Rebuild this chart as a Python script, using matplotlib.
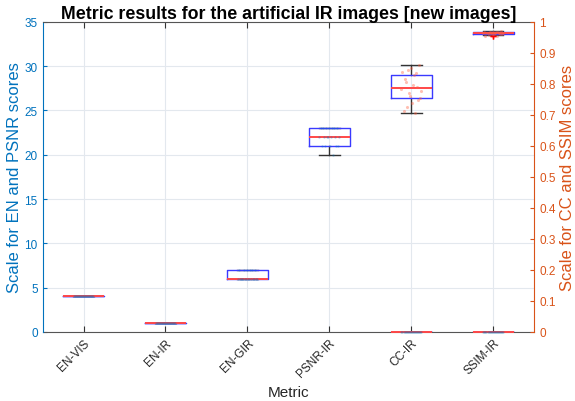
import numpy as np
import matplotlib.pyplot as plt

plt.rcParams['font.family'] = ['Liberation Sans', 'DejaVu Sans']

metrics = ['EN-VIS', 'EN-IR', 'EN-GIR', 'PSNR-IR', 'CC-IR', 'SSIM-IR']

# scores per image (20 artificial IR images)
en_vis = [4] * 20
en_ir = [1] * 20
en_gir = [6, 6, 6, 6, 6, 6, 6, 6, 6, 6, 6, 6, 6, 6, 7, 7, 7, 7, 7, 7]
psnr_ir = [20, 21, 21, 21, 21, 21, 22, 22, 22, 22,
           22, 22, 22, 23, 23, 23, 23, 23, 23, 23]
cc_ir = [0.705, 0.712, 0.725, 0.738, 0.748, 0.755, 0.762, 0.770, 0.778, 0.785,
         0.789, 0.795, 0.805, 0.815, 0.828, 0.834, 0.838, 0.845, 0.852, 0.862]
ssim_ir = [0.953, 0.954, 0.958, 0.960, 0.961, 0.962, 0.962, 0.963, 0.963, 0.964,
           0.964, 0.965, 0.965, 0.965, 0.966, 0.966, 0.967, 0.968, 0.969, 0.970]

zeros = [0] * 20
left_data = [en_vis, en_ir, en_gir, psnr_ir, zeros, zeros]
right_data = [cc_ir, ssim_ir]

c_left = '#0072BD'
c_right = '#D95319'

fig = plt.figure(figsize=(5.75, 4.02), dpi=100)
ax = fig.add_axes([0.074, 0.172, 0.855, 0.771])
ax2 = ax.twinx()

box_kw = dict(widths=0.5, whis=1.5,
              boxprops=dict(color='#3a3aff', lw=1, zorder=3),
              medianprops=dict(color='#ff4848', lw=1.4, zorder=4, clip_on=False),
              whiskerprops=dict(color='#333333', lw=1, zorder=2),
              capprops=dict(color='#333333', lw=1, zorder=2),
              flierprops=dict(marker='+', markeredgecolor='red', markersize=4, lw=0.8))

pos = np.arange(1, len(metrics) + 1)
ax.boxplot(left_data, positions=pos, **box_kw)
ax2.boxplot(right_data, positions=pos[4:], **box_kw)

# jittered points
n = len(en_vis)
jit = np.linspace(-0.12, 0.12, n)
order = np.argsort(np.sin(np.arange(n) * 2.3))
jit = jit[order]
for p, d in zip(pos, left_data):
    ax.scatter(p + jit, d, s=3, color=c_left, alpha=0.3, lw=0, zorder=5, clip_on=False)
for p, d in zip(pos[4:], right_data):
    ax2.scatter(p + jit, d, s=5, color='#ff6040', alpha=0.4, lw=0, zorder=5)

ax.set_xlim(0.5, 6.5)
ax.set_ylim(0, 35)
ax.set_yticks(np.arange(0, 36, 5))
ax2.set_ylim(0, 1)
ax2.set_yticks(np.arange(0, 1.01, 0.1))
ax2.set_yticklabels(['0'] + ['%.1f' % v for v in np.arange(0.1, 0.95, 0.1)] + ['1'])

ax.set_xticks(pos)
ax.set_xticklabels(metrics, rotation=45, ha='right', rotation_mode='anchor', fontsize=8.5,
                   color='#262626')
ax.grid(True, color='#e3e8ee', lw=0.8)
ax.set_axisbelow(True)

ax.tick_params(axis='y', colors=c_left, labelsize=8.5, direction='in', length=3)
ax.tick_params(axis='x', direction='in', length=4, color='#333333', top=True)
ax2.tick_params(axis='y', colors=c_right, labelsize=8.5, direction='in', length=3)

ax.spines['top'].set_color('#555555')
ax.spines['bottom'].set_color('#555555')
ax.spines['bottom'].set_zorder(1)
ax.spines['left'].set_color(c_left)
ax.spines['right'].set_visible(False)
ax2.spines['top'].set_visible(False)
ax2.spines['bottom'].set_visible(False)
ax2.spines['left'].set_visible(False)
ax2.spines['right'].set_color(c_right)

ax.set_ylabel('Scale for EN and PSNR scores', color=c_left, fontsize=12, labelpad=2)
ax2.set_ylabel('Scale for CC and SSIM scores', color=c_right, fontsize=12, labelpad=3)
ax.set_xlabel('Metric', color='#262626', fontsize=11)
ax.set_title('Metric results for the artificial IR images [new images]',
             fontsize=12.8, fontweight='bold', pad=3)

fig.savefig('out.png', dpi=100)
